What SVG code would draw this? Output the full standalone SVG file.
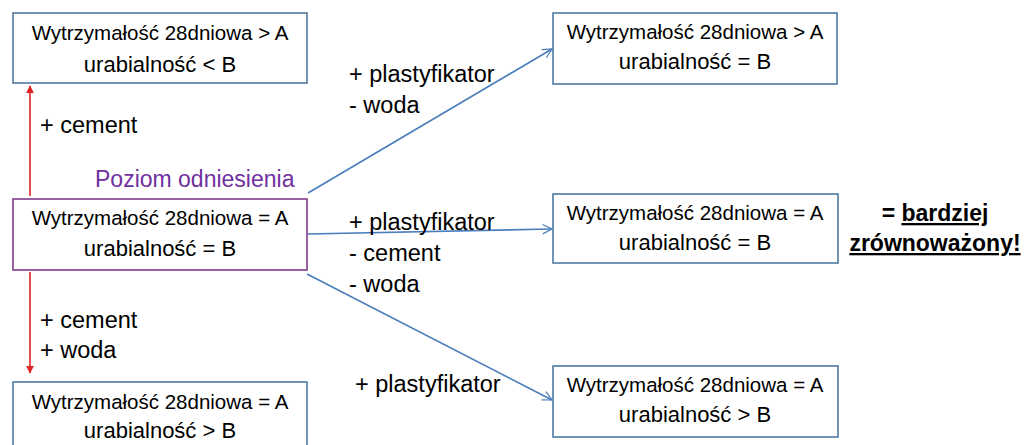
<svg xmlns="http://www.w3.org/2000/svg" width="1031" height="445" viewBox="0 0 1031 445">
<style>
  .box { fill: #ffffff; stroke: #41719C; stroke-width: 1.5; }
  .ref { fill: #ffffff; stroke: #7A2E87; stroke-width: 1.5; }
  .t1 { font-family: "Liberation Sans", Arial, sans-serif; font-size: 20.5px; fill: #000; text-anchor: middle; }
  .t2 { font-family: "Liberation Sans", Arial, sans-serif; font-size: 22px; fill: #000; text-anchor: middle; }
  .lbl { font-family: "Liberation Sans", Arial, sans-serif; font-size: 23.5px; fill: #000; }
  .poz { font-family: "Liberation Sans", Arial, sans-serif; font-size: 23px; fill: #7030A0; }
  .bold { font-family: "Liberation Sans", Arial, sans-serif; font-size: 23px; font-weight: bold; fill: #000; text-anchor: middle; }
  .red { stroke: #E02424; stroke-width: 1.6; fill: none; }
  .blue { stroke: #4A7EBB; stroke-width: 1.6; fill: none; }
</style>
<defs>
  <marker id="ar" viewBox="0 0 10 10" refX="9" refY="5" markerWidth="5" markerHeight="5" orient="auto" markerUnits="strokeWidth">
    <path d="M0,0 L10,5 L0,10 z" fill="#E02424"/>
  </marker>
  <marker id="ab" viewBox="0 0 12 12" refX="11" refY="6" markerWidth="7" markerHeight="7" orient="auto" markerUnits="strokeWidth">
    <path d="M1,1 L11,6 L1,11" fill="none" stroke="#4A7EBB" stroke-width="1.3"/>
  </marker>
</defs>

<g id="connectors">
  <line class="red" x1="30" y1="196" x2="30" y2="86" marker-end="url(#ar)"/>
  <line class="red" x1="30" y1="272" x2="30" y2="373" marker-end="url(#ar)"/>
  <line class="blue" x1="308" y1="193" x2="552" y2="49" marker-end="url(#ab)"/>
  <line class="blue" x1="308" y1="234" x2="552" y2="229" marker-end="url(#ab)"/>
  <line class="blue" x1="307" y1="274" x2="552" y2="400" marker-end="url(#ab)"/>
</g>

<g id="node-top-left">
  <rect class="box" x="13" y="13" width="294" height="70"/>
  <text class="t1" x="160" y="40">Wytrzymałość 28dniowa &gt; A</text>
  <text class="t2" x="160" y="72">urabialność &lt; B</text>
</g>

<g id="node-reference">
  <rect class="ref" x="13" y="199" width="294" height="71"/>
  <text class="t1" x="160" y="225">Wytrzymałość 28dniowa = A</text>
  <text class="t2" x="160" y="256">urabialność = B</text>
</g>

<g id="node-bottom-left">
  <rect class="box" x="13" y="382" width="294" height="72"/>
  <text class="t1" x="160" y="409">Wytrzymałość 28dniowa = A</text>
  <text class="t2" x="160" y="438">urabialność &gt; B</text>
</g>

<g id="node-top-right">
  <rect class="box" x="553" y="13" width="284" height="71"/>
  <text class="t1" x="695" y="39">Wytrzymałość 28dniowa &gt; A</text>
  <text class="t2" x="695" y="69">urabialność = B</text>
</g>

<g id="node-mid-right">
  <rect class="box" x="553" y="194" width="285" height="69"/>
  <text class="t1" x="695" y="220">Wytrzymałość 28dniowa = A</text>
  <text class="t2" x="695" y="250">urabialność = B</text>
</g>

<g id="node-bottom-right">
  <rect class="box" x="553" y="366" width="285" height="71"/>
  <text class="t1" x="695" y="392">Wytrzymałość 28dniowa = A</text>
  <text class="t2" x="695" y="422">urabialność &gt; B</text>
</g>

<g id="labels">
  <text class="poz" x="95" y="187">Poziom odniesienia</text>
  <text class="lbl" x="40" y="133">+ cement</text>
  <text class="lbl" x="40" y="328">+ cement</text>
  <text class="lbl" x="40" y="358">+ woda</text>
  <text class="lbl" x="349" y="82">+ plastyfikator</text>
  <text class="lbl" x="349" y="113">- woda</text>
  <text class="lbl" x="349" y="230">+ plastyfikator</text>
  <text class="lbl" x="349" y="261">- cement</text>
  <text class="lbl" x="349" y="292">- woda</text>
  <text class="lbl" x="355" y="392">+ plastyfikator</text>
  <text class="bold" x="935" y="221">= <tspan text-decoration="underline">bardziej</tspan></text>
  <text class="bold" x="935" y="251" text-decoration="underline">zrównoważony!</text>
</g>
</svg>
